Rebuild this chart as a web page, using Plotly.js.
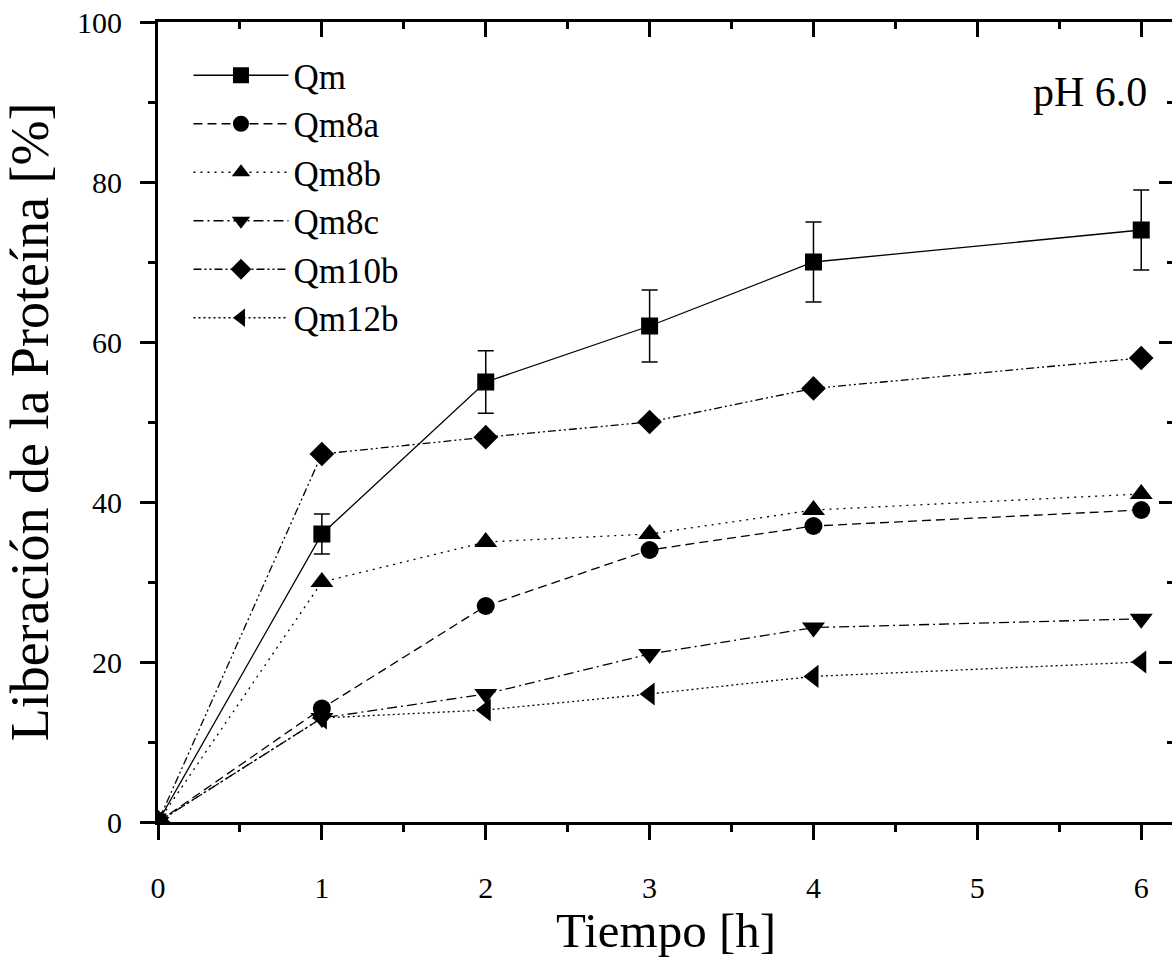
<!DOCTYPE html>
<html>
<head>
<meta charset="utf-8">
<script src="https://cdn.plot.ly/plotly-3.0.1.min.js"></script>
<style>
html,body{margin:0;padding:0;overflow:hidden;background:#fff;}
#chart{width:1182px;height:958px;}
</style>
</head>
<body>
<div id="chart"></div>
<script>
var time = [0, 1, 2, 3, 4, 6];
var seriesNames = ["Qm", "Qm8a", "Qm8b", "Qm8c", "Qm10b", "Qm12b"];
var qm    = [0, 36, 55, 62, 70, 74];
var qmErr = [0, 2.5, 3.9, 4.5, 5, 5];
var qm8a  = [0, 14.2, 27, 34, 37, 39];
var qm8b  = [0, 30, 35, 36, 39, 41];
var qm8c  = [0, 13, 16, 21, 24.3, 25.4];
var qm10b = [0, 46, 48.1, 50, 54.2, 58];
var qm12b = [0, 13, 14, 16, 18.2, 20];
var xTicks = [0, 1, 2, 3, 4, 5, 6];
var yTicks = [0, 20, 40, 60, 80, 100];

var serif = '"Liberation Serif", "Times New Roman", Times, serif';
var valuesList = [qm, qm8a, qm8b, qm8c, qm10b, qm12b];
var symbols = ["square", "circle", "triangle-up", "triangle-down", "diamond", "triangle-left"];
var sizes = [17, 18, 20, 20, 19, 20];
var dashes = ["solid", "9px,5px", "2px,5px", "10px,4px,2px,4px", "8px,3px,2px,3px,2px,3px", "2px,3px"];

var traces = seriesNames.map(function(name, i){
  var t = {
    x: time, y: valuesList[i], name: name, type: "scatter", mode: "lines+markers",
    line: {color: "#000", width: 1.3, dash: dashes[i]},
    marker: {symbol: symbols[i], size: sizes[i], color: "#000"}
  };
  if (i === 0) {
    t.error_y = {type: "data", array: qmErr, visible: true, color: "#000", thickness: 1.5, width: 8};
  }
  return t;
});
// empty trace so that the mirrored (top/right) frame axes get drawn
traces.push({x: [], y: [], xaxis: "x2", yaxis: "y2", type: "scatter", mode: "markers",
  showlegend: false, hoverinfo: "skip"});

var axBase = {
  showline: true, linecolor: "#000", linewidth: 3, showgrid: false, zeroline: false,
  tickcolor: "#000", tickwidth: 3, ticklen: 15,
  tickfont: {family: serif, size: 30, color: "#000"}
};

var layout = {
  width: 1182, height: 958,
  margin: {l: 158, r: 8, t: 22, b: 136},
  paper_bgcolor: "#fff", plot_bgcolor: "#fff",
  font: {family: serif, color: "#000"},
  showlegend: true,
  legend: {
    x: 0.03, y: 0.97, xanchor: "left", yanchor: "top",
    bgcolor: "rgba(0,0,0,0)", borderwidth: 0,
    font: {family: serif, size: 35, color: "#000"},
    itemwidth: 95, tracegroupgap: 0
  },
  xaxis: Object.assign({}, axBase, {
    range: [0, 6.2], tickvals: xTicks, ticks: "outside",
    minor: {dtick: 0.5, ticks: "outside", ticklen: 7, tickwidth: 3, tickcolor: "#000", showgrid: false},
    ticklabelstandoff: 22,
    title: {text: "Tiempo [h]", font: {family: serif, size: 49, color: "#000"}, standoff: 14}
  }),
  yaxis: Object.assign({}, axBase, {
    range: [0, 100], tickvals: yTicks, ticks: "outside",
    minor: {dtick: 10, ticks: "outside", ticklen: 7, tickwidth: 3, tickcolor: "#000", showgrid: false},
    ticklabelstandoff: 12,
    title: {text: "Liberación de la Proteína [%]", font: {family: serif, size: 54, color: "#000"}, standoff: 26}
  }),
  xaxis2: Object.assign({}, axBase, {
    overlaying: "x", side: "top", anchor: "y2", range: [0, 6.2], tickvals: xTicks, ticks: "inside",
    showticklabels: false,
    minor: {dtick: 0.5, ticks: "inside", ticklen: 7, tickwidth: 3, tickcolor: "#000", showgrid: false}
  }),
  yaxis2: Object.assign({}, axBase, {
    overlaying: "y", side: "right", anchor: "x2", range: [0, 100], tickvals: yTicks, ticks: "inside",
    showticklabels: false,
    minor: {dtick: 10, ticks: "inside", ticklen: 7, tickwidth: 3, tickcolor: "#000", showgrid: false}
  }),
  annotations: [{
    text: "pH 6.0", xref: "paper", yref: "paper", x: 0.975, y: 0.912,
    xanchor: "right", yanchor: "middle", showarrow: false,
    font: {family: serif, size: 42, color: "#000"}
  }]
};

Plotly.newPlot("chart", traces, layout, {displayModeBar: false, staticPlot: true});
</script>
</body>
</html>
